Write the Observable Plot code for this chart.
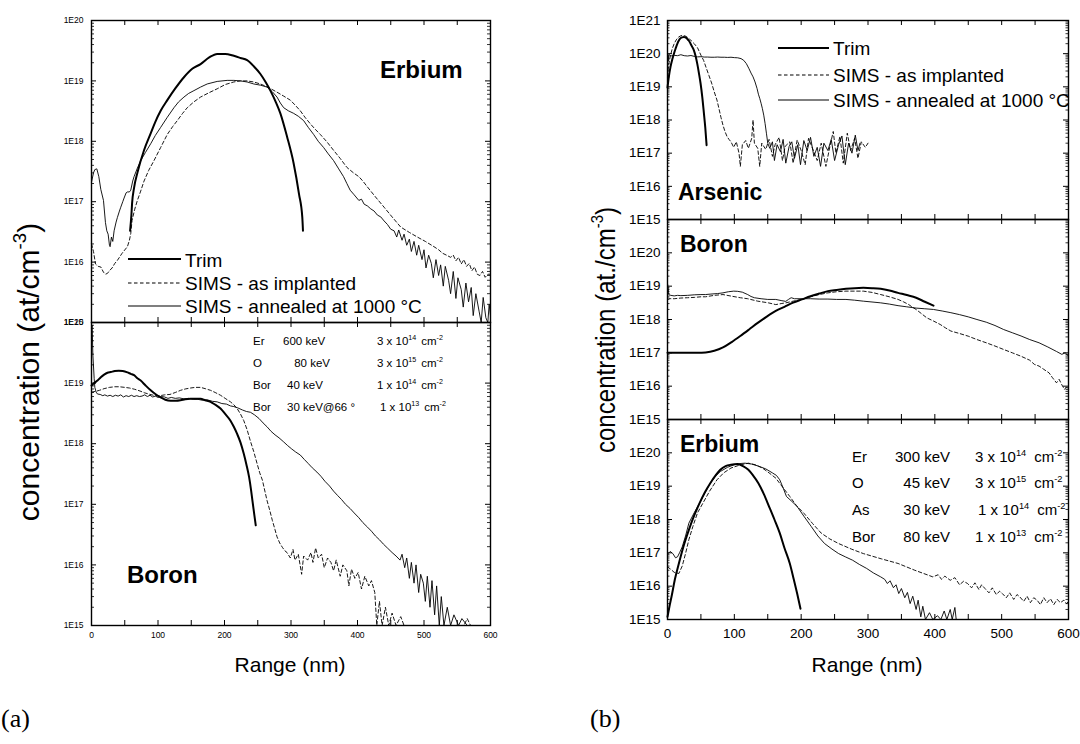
<!DOCTYPE html>
<html><head><meta charset="utf-8">
<script src="https://cdn.jsdelivr.net/npm/d3@7"></script>
<script src="https://cdn.jsdelivr.net/npm/@observablehq/plot@0.6"></script>
<style>
body{margin:0;background:#fff}
#root{position:relative;width:1080px;height:744px;overflow:hidden;background:#fff}
</style></head>
<body><div id="root"></div>
<script>
const FONT = '"Liberation Sans", Arial, Helvetica, sans-serif';
const SERIF = '"Liberation Serif", "Times New Roman", serif';

// ---------- axis tick values / labels ----------
const X_TICKS = [0, 100, 200, 300, 400, 500, 600];
const X_TICK_LABELS = ["0", "100", "200", "300", "400", "500", "600"];
const X_MINOR = [0, 50, 100, 150, 200, 250, 300, 350, 400, 450, 500, 550, 600];
const Y_TICKS_A = [1e15, 1e16, 1e17, 1e18, 1e19, 1e20];
const Y_LABELS_A = ["1E15", "1E16", "1E17", "1E18", "1E19", "1E20"];
const Y_TICKS_B = [1e15, 1e16, 1e17, 1e18, 1e19, 1e20, 1e21];
const Y_LABELS_B = ["1E15", "1E16", "1E17", "1E18", "1E19", "1E20", "1E21"];

// ---------- (a) Erbium : [range nm, concentration at/cm3] ----------
const erA_trim = [[58,3.3e16],[60,6.0e16],[61,9.3e16],[64,1.7e17],[69,3.0e17],[79,7.1e17],[89,1.35e18],[96,2.1e18],[104,3.2e18],[114,4.8e18],[126,7.5e18],[139,1.15e19],[152,1.6e19],[164,1.9e19],[177,2.45e19],[189,2.8e19],[201,2.8e19],[214,2.6e19],[224,2.4e19],[234,2.2e19],[244,1.75e19],[254,1.3e19],[262,9.5e18],[269,6.9e18],[277,4.5e18],[284,2.9e18],[294,1.2e18],[304,4.3e17],[312,1.35e17],[317,5.5e16],[318,3.3e16]];
const erA_ann = [[0,2.1e17],[3,3.0e17],[5,3.4e17],[8,3.5e17],[11,2.6e17],[14,1.6e17],[18,1.05e17],[21,4.5e16],[23,3.3e16],[25,2.9e16],[27,1.9e16],[28,1.8e16],[30,2.6e16],[32,2.2e16],[34,3.3e16],[37,4.6e16],[39,5.5e16],[42,7.0e16],[44,8.1e16],[47,1.0e17],[49,1.15e17],[52,1.4e17],[54,1.45e17],[57,1.45e17],[59,1.55e17],[62,2.2e17],[64,2.6e17],[69,3.6e17],[74,4.8e17],[81,6.5e17],[89,9.1e17],[96,1.25e18],[104,1.7e18],[114,2.5e18],[124,3.6e18],[131,4.5e18],[139,5.4e18],[146,6.2e18],[154,6.9e18],[164,7.9e18],[174,8.9e18],[189,9.8e18],[204,1.02e19],[214,1.02e19],[224,1.0e19],[234,9.6e18],[244,8.9e18],[254,8.5e18],[264,7.9e18],[272,6.6e18],[279,5.4e18],[284,4.3e18],[289,3.6e18],[296,3.2e18],[304,2.9e18],[311,2.6e18],[319,2.2e18],[326,1.7e18],[334,1.3e18],[341,1.0e18],[349,7.9e17],[356,6.2e17],[364,4.8e17],[371,3.6e17],[379,2.6e17],[384,2.0e17],[389,1.55e17],[395,1.3e17],[402,1.05e17],[406,1.1e17],[410,9.1e16],[415,8.5e16],[420,7.6e16],[425,7.0e16],[430,6.0e16],[435,5.6e16],[440,4.8e16],[445,4.2e16],[450,3.5e16],[455,3.3e16],[459,2.6e16],[462,3.4e16],[467,2.3e16],[470,2.9e16],[474,1.9e16],[478,2.4e16],[481,1.5e16],[485,2.2e16],[489,1.3e16],[492,1.9e16],[497,1.1e16],[500,1.6e16],[503,8.0e15],[507,1.3e16],[511,9.5e15],[514,5.5e15],[518,1.1e16],[522,6.0e15],[525,9.0e15],[529,4.0e15],[532,8.5e15],[537,5.0e15],[540,3.0e15],[544,7.0e15],[548,2.5e15],[551,5.5e15],[556,3.5e15],[559,1.8e15],[563,4.5e15],[567,2.2e15],[571,3.8e15],[574,1.3e15],[578,3.0e15],[583,1.5e15],[586,1.0e15],[589,2.6e15],[593,1.2e15],[596,1.0e15],[598,2.0e15],[600,1.3e15]];
const erA_imp = [[0,2.0e16],[3,1.5e16],[6,9.3e15],[10,8.5e15],[14,8.3e15],[18,6.8e15],[21,6.3e15],[24,6.5e15],[27,7.2e15],[31,8.0e15],[35,9.5e15],[39,1.07e16],[46,1.4e16],[54,1.8e16],[57,2.3e16],[59,2.95e16],[61,4.9e16],[65,7.5e16],[69,1.05e17],[74,1.5e17],[79,2.2e17],[86,3.3e17],[94,4.8e17],[104,7.9e17],[114,1.3e18],[122,1.75e18],[129,2.2e18],[137,2.9e18],[144,3.6e18],[154,4.5e18],[164,5.4e18],[177,6.4e18],[189,7.4e18],[201,8.7e18],[214,9.6e18],[224,1.0e19],[234,1.0e19],[244,9.6e18],[254,8.9e18],[266,7.8e18],[279,6.5e18],[289,5.6e18],[299,4.8e18],[306,4.0e18],[314,3.2e18],[321,2.5e18],[329,1.95e18],[336,1.6e18],[344,1.3e18],[354,9.8e17],[364,7.1e17],[374,5.2e17],[384,3.7e17],[394,3.0e17],[402,2.6e17],[408,2.2e17],[415,1.75e17],[427,1.2e17],[440,8.1e16],[452,5.6e16],[465,3.8e16],[478,3.1e16],[490,2.6e16],[502,2.2e16],[515,1.8e16],[522,1.6e16],[528,1.4e16],[534,1.3e16],[540,1.2e16],[544,1.3e16],[548,1.05e16],[552,1.2e16],[556,9.3e15],[560,1.1e16],[564,8.5e15],[568,9.5e15],[572,7.2e15],[576,8.3e15],[580,6.3e15],[584,6.0e15],[588,7.0e15],[592,5.6e15],[596,6.3e15],[600,6.3e15]];

// ---------- (a) Boron ----------
const bA_trim = [[0,9.1e18],[4,1.0e19],[9,1.1e19],[14,1.25e19],[19,1.38e19],[24,1.48e19],[29,1.52e19],[35,1.58e19],[41,1.6e19],[47,1.58e19],[54,1.5e19],[59,1.42e19],[64,1.35e19],[69,1.2e19],[74,1.1e19],[81,9.2e18],[89,7.6e18],[96,6.6e18],[104,5.8e18],[111,5.3e18],[119,5.1e18],[127,5.1e18],[134,5.2e18],[141,5.4e18],[149,5.5e18],[156,5.5e18],[164,5.5e18],[171,5.2e18],[179,4.9e18],[186,4.4e18],[194,3.8e18],[201,3.1e18],[209,2.4e18],[214,1.9e18],[219,1.45e18],[224,1.05e18],[229,6.8e17],[233,4.5e17],[237,2.8e17],[240,1.7e17],[242,1.15e17],[245,6.5e16],[247,4.5e16]];
const bA_ann = [[0,8.0e19],[1,9.0e19],[2,3.0e19],[4,1.2e19],[5,8.5e18],[7,7.1e18],[9,6.6e18],[13,6.5e18],[17,6.2e18],[20,6.4e18],[24,6.1e18],[28,6.3e18],[32,6.0e18],[36,6.3e18],[40,6.1e18],[44,6.4e18],[48,5.9e18],[52,6.2e18],[56,6.0e18],[60,6.3e18],[64,6.0e18],[68,6.2e18],[72,6.0e18],[76,6.1e18],[80,6.4e18],[84,6.0e18],[88,6.3e18],[92,5.9e18],[96,6.1e18],[100,5.8e18],[105,6.0e18],[110,5.9e18],[115,5.6e18],[120,5.8e18],[126,5.6e18],[132,5.7e18],[139,5.5e18],[146,5.6e18],[153,5.4e18],[160,5.4e18],[167,5.2e18],[174,5.3e18],[182,5.0e18],[189,4.9e18],[196,4.6e18],[203,4.5e18],[209,4.2e18],[214,4.1e18],[220,3.9e18],[227,3.6e18],[233,3.4e18],[239,3.3e18],[245,3.0e18],[252,2.6e18],[258,2.2e18],[264,1.9e18],[270,1.6e18],[276,1.4e18],[282,1.25e18],[289,1.07e18],[295,9.3e17],[301,8.2e17],[307,7.3e17],[314,6.5e17],[320,5.5e17],[326,4.7e17],[332,4.0e17],[339,3.4e17],[345,2.9e17],[351,2.4e17],[358,2.0e17],[364,1.65e17],[370,1.4e17],[376,1.2e17],[382,1.0e17],[389,8.5e16],[395,7.2e16],[402,6.0e16],[408,5.0e16],[415,4.2e16],[421,3.6e16],[427,3.0e16],[433,2.6e16],[439,2.2e16],[445,1.9e16],[452,1.6e16],[458,1.4e16],[464,1.2e16],[467,1.5e16],[471,9.0e15],[474,1.3e16],[478,6.0e15],[481,1.1e16],[485,5.0e15],[488,1.0e16],[492,3.5e15],[495,7.0e15],[499,5.0e15],[502,2.5e15],[505,6.5e15],[509,2.0e15],[512,5.5e15],[516,1.5e15],[519,4.5e15],[523,1.0e15],[526,3.0e15],[530,1.0e15],[535,2.0e15],[540,1.0e15],[545,1.5e15],[552,1.0e15],[557,1.3e15],[565,1.0e15],[600,1.0e15]];
const bA_imp = [[0,7.1e18],[6,7.3e18],[12,7.6e18],[19,8.1e18],[27,8.5e18],[35,8.7e18],[42,8.7e18],[50,8.5e18],[57,8.3e18],[65,7.9e18],[73,7.4e18],[80,6.9e18],[88,6.5e18],[96,6.2e18],[103,6.2e18],[110,6.4e18],[118,6.5e18],[126,7.0e18],[134,7.6e18],[141,8.0e18],[149,8.3e18],[156,8.5e18],[164,8.5e18],[171,8.1e18],[179,7.6e18],[186,7.0e18],[194,6.3e18],[201,5.6e18],[209,4.9e18],[214,4.4e18],[219,3.8e18],[224,3.1e18],[229,2.4e18],[234,1.7e18],[239,1.1e18],[244,7.4e17],[249,4.7e17],[253,3.3e17],[257,2.5e17],[261,1.6e17],[264,1.15e17],[268,8.0e16],[272,5.4e16],[276,3.8e16],[279,2.9e16],[283,2.3e16],[287,1.95e16],[291,1.7e16],[294,1.6e16],[299,1.3e16],[303,1.8e16],[306,1.2e16],[311,1.5e16],[316,7.0e15],[319,1.4e16],[325,1.2e16],[330,1.6e16],[333,1.1e16],[337,1.9e16],[341,1.3e16],[346,1.5e16],[350,9.0e15],[355,1.3e16],[360,1.1e16],[364,8.0e15],[368,1.2e16],[374,6.5e15],[378,1.0e16],[384,8.0e15],[387,4.5e15],[391,8.5e15],[396,6.0e15],[401,7.5e15],[406,4.0e15],[411,6.5e15],[417,4.5e15],[421,5.5e15],[426,3.5e15],[429,1.0e15],[433,2.5e15],[437,1.0e15],[442,2.0e15],[447,1.0e15],[452,1.6e15],[458,1.0e15],[465,1.4e15],[470,1.0e15],[500,1.0e15],[560,1.0e15],[565,1.3e15],[570,1.0e15]];

// ---------- (b) Arsenic ----------
const asB_trim = [[0,9.5e18],[2,2.0e19],[4.5,4.0e19],[7,6.5e19],[9.5,9.8e19],[12,1.4e20],[14.5,1.95e20],[17,2.5e20],[19.5,2.9e20],[22,3.1e20],[24.5,3.2e20],[27,3.1e20],[29.5,2.8e20],[32,2.45e20],[34.5,2.0e20],[37,1.6e20],[39.5,1.26e20],[42,8.5e19],[44.5,5.0e19],[47,2.6e19],[49.5,1.26e19],[52,5.0e18],[54.5,1.58e18],[56.5,6.0e17],[58.5,1.74e17]];
const asB_imp = [[0,2.0e19],[2,5.0e19],[4,8.0e19],[7,1.4e20],[10,2.0e20],[13,2.6e20],[16,3.1e20],[19,3.4e20],[22,3.55e20],[25,3.5e20],[28,3.3e20],[32,2.9e20],[36,2.4e20],[40,2.0e20],[45,1.5e20],[50,9.0e19],[54,6.3e19],[58,3.7e19],[62,2.2e19],[66,1.3e19],[70,7.0e18],[74,4.0e18],[77,2.2e18],[80,1.2e18],[83,7.0e17],[86,4.5e17],[89,3.2e17],[92,2.6e17],[95,2.2e17],[99,1.5e17],[103,2.2e17],[107,1.0e17],[109,4.0e16],[112,1.8e17],[117,2.4e17],[121,1.4e17],[126,2.8e17],[128,1.0e18],[130,2.0e17],[135,1.4e17],[138,4.0e16],[141,2.0e17],[147,1.3e17],[152,2.6e17],[157,8.0e16],[161,1.8e17],[167,3.0e17],[172,6.0e16],[176,1.6e17],[183,2.2e17],[188,5.0e16],[194,2.5e17],[200,1.2e17],[206,4.5e16],[211,2.8e17],[217,1.4e17],[224,6.0e16],[230,2.0e17],[237,4.0e16],[243,1.6e17],[248,4.5e17],[252,1.0e17],[258,3.2e17],[263,5.0e16],[269,4.0e17],[274,1.2e17],[280,2.8e17],[285,7.0e16],[290,2.2e17],[296,1.5e17],[300,2.0e17]];
const asB_ann = [[0,1.0e20],[1,6.0e19],[2,9.5e19],[5,8.5e19],[10,8.9e19],[15,8.7e19],[20,9.3e19],[25,8.7e19],[30,8.5e19],[35,8.8e19],[40,8.3e19],[45,8.0e19],[50,8.1e19],[55,7.9e19],[60,7.9e19],[65,7.8e19],[70,7.8e19],[75,7.9e19],[80,7.8e19],[85,7.8e19],[90,7.7e19],[95,7.8e19],[100,7.6e19],[105,7.5e19],[110,7.1e19],[114,6.3e19],[118,5.0e19],[122,3.5e19],[125,2.6e19],[128,2.0e19],[131,1.4e19],[134,8.9e18],[136,6.0e18],[138,4.5e18],[140,3.2e18],[142,2.2e18],[144,1.4e18],[146,7.9e17],[148,4.0e17],[150,2.0e17],[153,1.4e17],[157,2.2e17],[160,6.0e16],[164,1.8e17],[169,1.1e17],[173,2.6e17],[177,5.0e16],[182,1.6e17],[186,2.2e17],[190,7.0e16],[195,1.8e17],[199,4.5e16],[204,2.4e17],[209,1.2e17],[214,3.0e17],[219,8.0e16],[224,1.5e17],[229,4.0e16],[234,2.0e17],[240,1.2e17],[245,2.6e17],[250,6.0e16],[256,1.8e17],[261,3.3e17],[266,4.5e16],[271,2.0e17],[276,1.0e17],[281,3.5e17],[285,1.2e17],[288,2.0e17]];

// ---------- (b) Boron ----------
const bB_trim = [[0,1.0e17],[15,1.0e17],[30,1.0e17],[45,1.0e17],[57,1.03e17],[70,1.15e17],[83,1.45e17],[96,2.1e17],[109,3.2e17],[122,5.0e17],[135,7.9e17],[148,1.2e18],[162,1.8e18],[175,2.4e18],[188,3.2e18],[201,4.0e18],[214,5.0e18],[227,6.0e18],[240,7.1e18],[253,7.7e18],[267,8.3e18],[280,8.7e18],[293,8.9e18],[306,8.7e18],[319,8.3e18],[332,7.4e18],[345,6.3e18],[358,5.4e18],[372,4.5e18],[385,3.4e18],[398,2.6e18]];
const bB_ann = [[0,1.2e19],[1,9.0e18],[2,5.5e18],[5,5.3e18],[10,5.1e18],[15,5.3e18],[20,5.2e18],[30,5.3e18],[40,5.5e18],[50,5.6e18],[57,5.6e18],[65,5.8e18],[75,6.0e18],[83,6.3e18],[91,6.8e18],[99,7.1e18],[105,7.0e18],[112,6.6e18],[120,5.6e18],[125,4.9e18],[130,4.5e18],[140,4.2e18],[150,4.0e18],[162,4.0e18],[170,3.7e18],[177,3.5e18],[181,4.0e18],[185,4.5e18],[190,4.2e18],[200,4.2e18],[214,4.2e18],[227,4.1e18],[240,4.1e18],[253,4.0e18],[267,4.0e18],[280,3.8e18],[293,3.55e18],[306,3.35e18],[319,3.16e18],[332,2.9e18],[345,2.6e18],[358,2.4e18],[372,2.2e18],[385,2.1e18],[398,2.0e18],[411,1.8e18],[424,1.6e18],[437,1.4e18],[450,1.2e18],[463,1.0e18],[477,8.3e17],[490,6.6e17],[503,5.0e17],[516,4.0e17],[529,3.2e17],[542,2.5e17],[556,2.0e17],[569,1.5e17],[582,1.1e17],[590,9.0e16],[595,1.0e17],[600,8.0e16]];
const bB_imp = [[0,4.5e18],[5,4.2e18],[10,4.2e18],[20,4.4e18],[30,4.5e18],[40,4.6e18],[50,4.8e18],[57,4.8e18],[70,5.3e18],[83,5.6e18],[96,5.0e18],[109,4.5e18],[120,4.2e18],[135,3.55e18],[151,3.16e18],[162,2.8e18],[170,3.0e18],[177,3.16e18],[188,3.55e18],[201,4.0e18],[214,4.8e18],[227,5.6e18],[240,6.3e18],[253,6.8e18],[267,7.1e18],[280,7.1e18],[293,7.1e18],[306,6.5e18],[319,5.6e18],[332,4.8e18],[345,4.0e18],[353,3.4e18],[361,2.8e18],[367,2.3e18],[372,2.0e18],[380,1.5e18],[388,1.12e18],[398,9.0e17],[408,7.1e17],[416,5.6e17],[424,4.5e17],[437,3.8e17],[450,3.16e17],[463,2.5e17],[477,2.0e17],[490,1.6e17],[503,1.26e17],[516,1.0e17],[529,7.9e16],[542,6.0e16],[549,4.5e16],[556,4.0e16],[563,3.2e16],[571,2.5e16],[576,1.8e16],[582,1.26e16],[586,1.6e16],[590,1.1e16],[594,8.0e15],[597,9.5e15],[600,8.0e15]];

// ---------- (b) Erbium ----------
const erB_trim = [[0,1.2e15],[3,2.5e15],[6,4.8e15],[11,1.58e16],[17,4.8e16],[24,1.58e17],[32,4.9e17],[40,1.32e18],[48,3.1e18],[56,6.6e18],[64,1.23e19],[72,2.1e19],[79,3.1e19],[87,4.0e19],[95,4.4e19],[105,4.6e19],[113,4.0e19],[121,3.1e19],[128,2.1e19],[136,1.23e19],[144,5.9e18],[152,2.45e18],[160,1.0e18],[168,3.9e17],[175,1.4e17],[183,4.8e16],[189,1.58e16],[194,6.0e15],[199,2.1e15]];
const erB_ann = [[1,9.5e16],[4,1.1e17],[8,9.5e16],[12,7.1e16],[15,7.6e16],[18,1.0e17],[22,1.5e17],[27,3.2e17],[32,7.8e17],[40,1.6e18],[48,3.1e18],[56,6.3e18],[64,1.23e19],[72,2.0e19],[79,2.75e19],[90,3.7e19],[100,4.4e19],[110,4.8e19],[116,4.9e19],[126,4.6e19],[136,4.0e19],[147,3.3e19],[157,2.5e19],[163,2.1e19],[168,1.55e19],[173,8.9e18],[178,4.9e18],[186,3.5e18],[194,2.45e18],[204,1.26e18],[215,6.2e17],[225,3.2e17],[235,1.9e17],[246,1.3e17],[256,9.5e16],[266,7.6e16],[277,6.0e16],[287,4.5e16],[298,3.4e16],[308,2.5e16],[319,1.9e16],[325,1.6e16],[329,1.2e16],[333,1.45e16],[338,9.0e15],[342,1.1e16],[346,6.0e15],[350,8.5e15],[355,4.5e15],[359,6.5e15],[363,3.0e15],[367,5.0e15],[372,2.0e15],[375,3.8e15],[379,1.2e15],[382,2.5e15],[386,1.0e15],[392,1.6e15],[397,1.0e15],[404,1.3e15],[409,1.0e15],[414,1.8e15],[418,1.0e15],[423,2.0e15],[426,1.0e15],[430,2.3e15],[432,1.0e15]];
const erB_imp = [[0,3.8e16],[5,3.2e16],[10,2.6e16],[17,2.4e16],[22,4.0e16],[27,9.5e16],[32,2.5e17],[38,6.2e17],[45,1.6e18],[53,3.1e18],[63,7.1e18],[74,1.55e19],[84,2.5e19],[95,3.5e19],[108,4.3e19],[121,4.9e19],[131,4.4e19],[142,3.5e19],[152,2.5e19],[162,1.74e19],[172,9.5e18],[183,4.9e18],[193,2.6e18],[204,1.55e18],[217,7.6e17],[230,3.9e17],[243,2.6e17],[256,1.9e17],[275,1.3e17],[293,9.5e16],[320,6.6e16],[345,4.8e16],[370,3.0e16],[397,1.9e16],[405,2.2e16],[410,1.6e16],[415,2.0e16],[423,1.5e16],[430,1.8e16],[437,1.1e16],[443,1.4e16],[449,1.2e16],[455,8.9e15],[460,1.26e16],[466,7.9e15],[470,1.1e16],[475,8.5e15],[481,6.3e15],[486,8.9e15],[492,5.6e15],[497,7.1e15],[501,6.0e15],[507,4.5e15],[512,6.3e15],[518,4.0e15],[523,5.6e15],[527,4.8e15],[533,3.5e15],[538,5.0e15],[543,3.2e15],[548,4.5e15],[553,3.8e15],[558,2.8e15],[563,4.5e15],[568,3.2e15],[573,4.2e15],[578,2.8e15],[583,4.0e15],[588,3.2e15],[593,3.8e15],[597,3.0e15],[600,3.5e15]];

// ---------- texts ----------
const LEGEND_LABELS = ["Trim", "SIMS - as implanted", "SIMS - annealed at 1000 °C"];
const INFO_A = [["Er", "600 keV", "3 x 10", "14"], ["O", " 80 keV", "3 x 10", "15"], ["Bor", "40 keV", "1 x 10", "14"], ["Bor", "30 keV@66 °", "1 x 10", "13"]];
const INFO_B = [["Er", "300 keV", "3 x 10", "14"], ["O", "45 keV", "3 x 10", "15"], ["As", "30 keV", "1 x 10", "14"], ["Bor", "80 keV", "1 x 10", "13"]];

// ---------- drawing ----------
const root = document.getElementById("root");
const STY = {
  trim: {width: 2, dash: null, curve: "monotone-x"},
  imp: {width: 0.9, dash: "3.5,2.5", curve: "linear"},
  ann: {width: 0.9, dash: null, curve: "linear"}
};

function subplot(cfg) {
  const {left, top, w, h, yDomain, yTicks, yLabels, yLabelTicks, series, xLabels, tickFont, padY, padX, major, minor} = cfg;
  const ml = 60, mr = 15, mt = 8, mb = 34;
  const minorVals = [];
  const e0 = Math.round(Math.log10(yDomain[0])), e1 = Math.round(Math.log10(yDomain[1]));
  for (let e = e0; e < e1; e++) for (let m = 2; m <= 9; m++) minorVals.push(m * Math.pow(10, e));
  const fmtY = d => yLabels[yTicks.indexOf(d)];
  const marks = [];
  for (const s of series) {
    const st = STY[s.kind];
    marks.push(Plot.line(s.data, {x: d => d[0], y: d => d[1], stroke: "#000", strokeWidth: st.width, strokeDasharray: st.dash, curve: st.curve}));
  }
  marks.push(
    Plot.tickY(yTicks, {y: d => d, insetRight: w - major, stroke: "#000", strokeWidth: 1}),
    Plot.tickY(yTicks, {y: d => d, insetLeft: w - major, stroke: "#000", strokeWidth: 1}),
    Plot.tickY(minorVals, {y: d => d, insetRight: w - minor, stroke: "#000", strokeWidth: 0.8}),
    Plot.tickY(minorVals, {y: d => d, insetLeft: w - minor, stroke: "#000", strokeWidth: 0.8}),
    Plot.tickX(X_MINOR, {x: d => d, insetBottom: h - major, stroke: "#000", strokeWidth: 1}),
    Plot.tickX(X_MINOR, {x: d => d, insetTop: h - major, stroke: "#000", strokeWidth: 1}),
    Plot.frame({stroke: "#000", strokeWidth: 1.4}),
    Plot.axisY({ticks: yLabelTicks, tickSize: 0, tickPadding: padY, tickFormat: fmtY, fontSize: tickFont, label: null})
  );
  if (xLabels) marks.push(Plot.axisX({ticks: X_TICKS, tickSize: 0, tickPadding: padX, tickFormat: d => X_TICK_LABELS[X_TICKS.indexOf(d)], fontSize: tickFont, label: null}));
  const svg = Plot.plot({
    width: w + ml + mr, height: h + mt + mb,
    marginLeft: ml, marginRight: mr, marginTop: mt, marginBottom: mb,
    x: {domain: [0, 600], axis: null},
    y: {type: "log", domain: yDomain, axis: null},
    style: {background: "transparent", overflow: "visible", fontFamily: FONT, color: "#000"},
    marks
  });
  svg.style.position = "absolute";
  svg.style.left = (left - ml) + "px";
  svg.style.top = (top - mt) + "px";
  svg.style.maxWidth = "none";
  root.appendChild(svg);
}

const A = {left: 91, w: 399, yDomain: [1e15, 1e20], yTicks: Y_TICKS_A, yLabels: Y_LABELS_A, yLabelTicks: Y_TICKS_A, tickFont: 8.5, padY: 8, padX: 6, major: 5, minor: 3};
subplot({...A, top: 20, h: 302, xLabels: false,
  series: [{kind: "imp", data: erA_imp}, {kind: "ann", data: erA_ann}, {kind: "trim", data: erA_trim}]});
subplot({...A, top: 322, h: 303, xLabels: true,
  series: [{kind: "imp", data: bA_imp}, {kind: "ann", data: bA_ann}, {kind: "trim", data: bA_trim}]});

const B = {left: 667, w: 401, h: 200, yDomain: [1e15, 1e21], yTicks: Y_TICKS_B, yLabels: Y_LABELS_B, tickFont: 13.5, padY: 7, padX: 9, major: 5, minor: 2.5};
subplot({...B, top: 20, h: 199, yLabelTicks: Y_TICKS_B, xLabels: false,
  series: [{kind: "imp", data: asB_imp}, {kind: "ann", data: asB_ann}, {kind: "trim", data: asB_trim}]});
subplot({...B, top: 219, yLabelTicks: Y_TICKS_B.slice(0, 6), xLabels: false,
  series: [{kind: "imp", data: bB_imp}, {kind: "ann", data: bB_ann}, {kind: "trim", data: bB_trim}]});
subplot({...B, top: 419, yLabelTicks: Y_TICKS_B.slice(0, 6), xLabels: true,
  series: [{kind: "imp", data: erB_imp}, {kind: "ann", data: erB_ann}, {kind: "trim", data: erB_trim}]});

// ---------- annotation overlay ----------
const ov = d3.select(root).append("svg")
  .attr("width", 1080).attr("height", 744)
  .style("position", "absolute").style("left", "0px").style("top", "0px")
  .style("overflow", "visible")
  .attr("font-family", FONT).attr("fill", "#000");

function rich(sel, parts, fs) {
  let up = false;
  for (const p of parts) {
    const t = sel.append("tspan").text(p.t);
    if (p.sup) { t.attr("font-size", fs * 0.62); if (!up) t.attr("dy", -fs * 0.42); up = true; }
    else { if (up) t.attr("dy", fs * 0.42); up = false; }
    if (p.dx) t.attr("dx", p.dx);
  }
}

// axis titles
rich(ov.append("text").attr("transform", "translate(39,372) rotate(-90)").attr("text-anchor", "middle").attr("font-size", 30),
  [{t: "concentration (at/cm"}, {t: "-3", sup: true}, {t: ")"}], 30);
rich(ov.append("text").attr("transform", "translate(615,330) rotate(-90) scale(0.86,1)").attr("text-anchor", "middle").attr("font-size", 28),
  [{t: "concentration (at./cm"}, {t: "-3", sup: true}, {t: ")"}], 28);
ov.append("text").attr("x", 290).attr("y", 672).attr("text-anchor", "middle").attr("font-size", 21).text("Range (nm)");
ov.append("text").attr("x", 867).attr("y", 672).attr("text-anchor", "middle").attr("font-size", 21).text("Range (nm)");
ov.append("text").attr("x", 1).attr("y", 727).attr("font-family", SERIF).attr("font-size", 26).text("(a)");
ov.append("text").attr("x", 590).attr("y", 727).attr("font-family", SERIF).attr("font-size", 26).text("(b)");

// element names
const bold = (x, y, s, fs) => ov.append("text").attr("x", x).attr("y", y).attr("font-weight", "bold").attr("font-size", fs).text(s);
bold(380, 78, "Erbium", 24);
bold(127, 583, "Boron", 24);
bold(678, 200, "Arsenic", 23);
bold(680, 252, "Boron", 23);
bold(680, 452, "Erbium", 23);

// legends
const LEG_STY = [STY.trim, STY.imp, STY.ann];
function legend(x0, x1, tx, lineYs, baseYs, fs) {
  LEGEND_LABELS.forEach((lab, i) => {
    ov.append("line").attr("x1", x0).attr("x2", x1).attr("y1", lineYs[i]).attr("y2", lineYs[i])
      .attr("stroke", "#000").attr("stroke-width", LEG_STY[i].width + 0.2)
      .attr("stroke-dasharray", LEG_STY[i].dash);
    ov.append("text").attr("x", tx).attr("y", baseYs[i]).attr("font-size", fs).text(lab);
  });
}
legend(128, 181, 185, [259, 283, 306], [267, 290, 313], 19);
legend(778, 829, 833, [48, 75, 100], [55, 82, 107], 19);

// implantation tables
const infoAEnergyX = [283, 291, 287, 287], infoADoseX = [377, 377, 377, 380], infoAY = [345, 367, 389, 411];
INFO_A.forEach((r, i) => {
  const fs = 11.5;
  ov.append("text").attr("x", 253).attr("y", infoAY[i]).attr("font-size", fs).text(r[0]);
  ov.append("text").attr("x", infoAEnergyX[i]).attr("y", infoAY[i]).attr("font-size", fs).attr("xml:space", "preserve").text(r[1]);
  rich(ov.append("text").attr("x", infoADoseX[i]).attr("y", infoAY[i]).attr("font-size", fs),
    [{t: r[2]}, {t: r[3], sup: true}, {t: "cm", dx: 5}, {t: "-2", sup: true}], fs);
});
const infoBY = [462, 488, 515, 542];
INFO_B.forEach((r, i) => {
  const fs = 15;
  ov.append("text").attr("x", 852).attr("y", infoBY[i]).attr("font-size", fs).text(r[0]);
  ov.append("text").attr("x", 950).attr("y", infoBY[i]).attr("text-anchor", "end").attr("font-size", fs).text(r[1]);
  rich(ov.append("text").attr("x", i === 2 ? 978 : 975).attr("y", infoBY[i]).attr("font-size", fs),
    [{t: r[2]}, {t: r[3], sup: true}, {t: "cm", dx: 8}, {t: "-2", sup: true}], fs);
});
</script>
</body></html>
